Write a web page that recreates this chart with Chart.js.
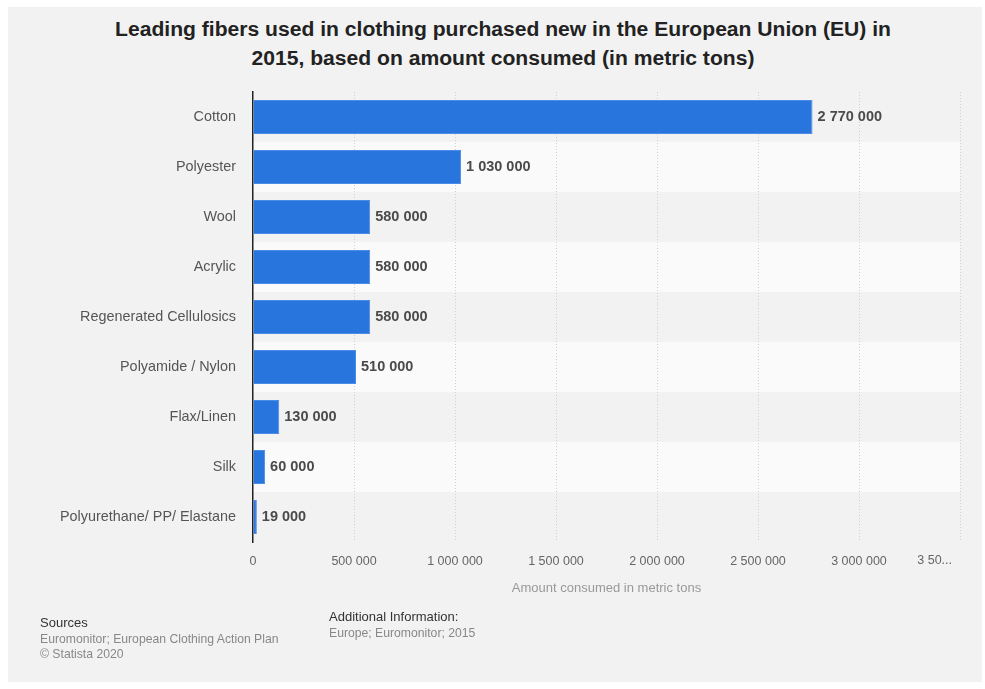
<!DOCTYPE html>
<html>
<head>
<meta charset="utf-8">
<script src="https://cdn.jsdelivr.net/npm/chart.js"></script>
<style>
  html, body { margin: 0; padding: 0; background: #fff; }
  body { width: 985px; height: 689px; position: relative; overflow: hidden;
         font-family: "Liberation Sans", Arial, sans-serif; }
  #panel { position: absolute; left: 8px; top: 7px; width: 974px; height: 675px; background: #f2f2f2; }
  #chart { position: absolute; left: 0; top: 0; }
  .title { position: absolute; left: 0; width: 1006px; top: 14px; text-align: center;
           font-weight: bold; font-size: 21.1px; line-height: 29px; color: #222; }
  .foot { position: absolute; font-size: 12.2px; line-height: 15.5px; color: #888; }
  .foot b { font-weight: normal; color: #333; font-size: 13px; }
</style>
</head>
<body>
<div id="panel"></div>
<div class="title">Leading fibers used in clothing purchased new in the European Union (EU) in<br>2015, based on amount consumed (in metric tons)</div>
<canvas id="chart" width="985" height="689"></canvas>
<div class="foot" style="left:40px; top:615px;"><b>Sources</b><br>Euromonitor; European Clothing Action Plan<br>© Statista 2020</div>
<div class="foot" style="left:329px; top:609px;"><b>Additional Information:</b><br>Europe; Euromonitor; 2015</div>
<script>
const fibers = [
  "Cotton", "Polyester", "Wool", "Acrylic", "Regenerated Cellulosics",
  "Polyamide / Nylon", "Flax/Linen", "Silk", "Polyurethane/ PP/ Elastane"
];
const tonsConsumed = [2770000, 1030000, 580000, 580000, 580000, 510000, 130000, 60000, 19000];
const xTicks = [0, 500000, 1000000, 1500000, 2000000, 2500000, 3000000, 3500000];

const FONT = "'Liberation Sans', Arial, sans-serif";

function spaced(n) {
  return String(n).replace(/\B(?=(\d{3})+(?!\d))/g, " ");
}

// alternating row stripes, drawn first so the grid sits on top
const rowBands = {
  id: "rowBands",
  beforeDraw(chart) {
    const { ctx, chartArea } = chart;
    const step = (chartArea.bottom - chartArea.top) / fibers.length;
    ctx.save();
    fibers.forEach((f, i) => {
      ctx.fillStyle = i % 2 ? "#fafafa" : "#f2f2f2";
      ctx.fillRect(chartArea.left, chartArea.top + i * step, chartArea.right - chartArea.left, step);
    });
    ctx.restore();
  }
};

// value labels at the end of each bar, plus the clipped last tick
const valueLabels = {
  id: "valueLabels",
  afterDatasetsDraw(chart) {
    const { ctx, scales } = chart;
    const meta = chart.getDatasetMeta(0);
    ctx.save();
    ctx.font = "bold 14.5px " + FONT;
    ctx.fillStyle = "#4a4a4a";
    ctx.textBaseline = "middle";
    meta.data.forEach((bar, i) => {
      ctx.fillText(spaced(tonsConsumed[i]), bar.x + 5, bar.y);
    });
    const last = xTicks[xTicks.length - 1];
    ctx.font = "12.5px " + FONT;
    ctx.fillStyle = "#666";
    ctx.textAlign = "right";
    ctx.textBaseline = "top";
    ctx.fillText(spaced(last).slice(0, 4) + "...", scales.x.getPixelForValue(last) - 8, scales.x.top + 12);
    ctx.restore();
  }
};

new Chart(document.getElementById("chart"), {
  type: "bar",
  data: {
    labels: fibers,
    datasets: [{
      data: tonsConsumed,
      backgroundColor: "#2876dd",
      borderColor: "#4b8de6",
      borderWidth: 1,
      borderSkipped: "left",
      categoryPercentage: 1,
      barPercentage: 0.68
    }]
  },
  options: {
    indexAxis: "y",
    responsive: false,
    animation: false,
    layout: { padding: { left: 8, right: 25, top: 92, bottom: 89 } },
    plugins: { legend: { display: false }, tooltip: { enabled: false } },
    scales: {
      x: {
        min: 0,
        max: 3500000,
        afterFit(s) { s.height = 58; },
        afterBuildTicks(s) { s.ticks = xTicks.map(v => ({ value: v })); },
        ticks: {
          padding: 12,
          color: "#666",
          font: { size: 12.5, family: FONT },
          callback: (v) => v === 3500000 ? "" : spaced(v)
        },
        grid: {
          drawTicks: false,
          color: (c) => c.tick && c.tick.value === 0 ? "rgba(0,0,0,0)" : "#d0d0d0",
          lineWidth: 1
        },
        border: { display: false, dash: [1, 2] },
        title: {
          display: true,
          text: "Amount consumed in metric tons",
          color: "#999",
          font: { size: 13, family: FONT }
        }
      },
      y: {
        afterFit(s) { s.width = 245; },
        ticks: {
          padding: 17,
          color: "#555",
          font: { size: 14.4, family: FONT }
        },
        grid: { display: false, drawTicks: false },
        border: { display: true, color: "#222", width: 1.5 }
      }
    }
  },
  plugins: [rowBands, valueLabels]
});
</script>
</body>
</html>
